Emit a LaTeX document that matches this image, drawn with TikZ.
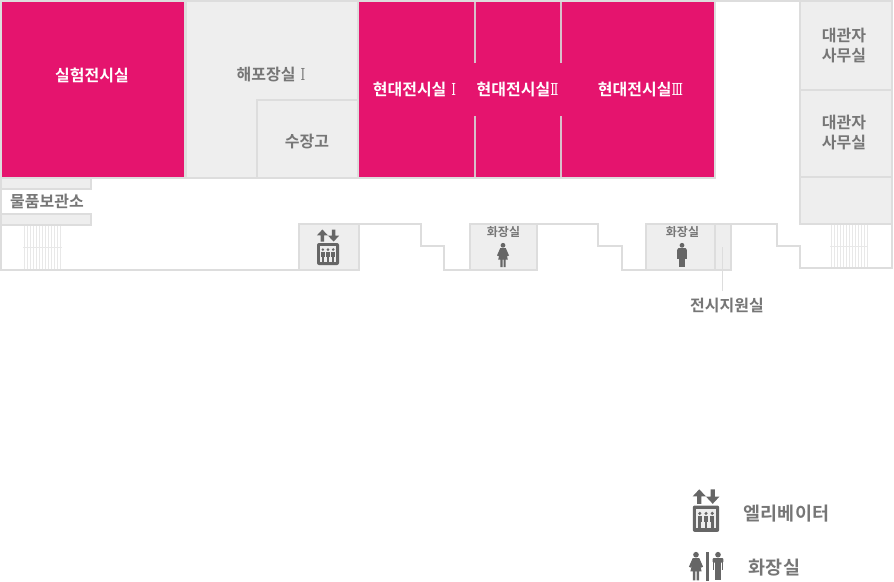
\documentclass[tikz,border=0pt]{standalone}
\usepackage{fontspec}
\setmainfont{Noto Sans CJK KR Bold}
\newfontfamily\romf{DejaVu Serif}[FakeStretch=0.72]
\newcommand{\fa}{\fontsize{16}{20}\selectfont}
\newcommand{\fb}{\fontsize{12}{14}\selectfont}
\newcommand{\fc}{\fontsize{18.5}{22}\selectfont}
\newcommand{\rn}[1]{{\romf\fontsize{16.5}{18}\selectfont #1}}
\definecolor{wallc}{HTML}{DDDDDD}
\definecolor{roomc}{HTML}{EEEEEE}
\definecolor{pinkc}{HTML}{E5146E}
\definecolor{textc}{HTML}{767676}
\definecolor{iconc}{HTML}{666666}
\definecolor{divc}{HTML}{D8BFCA}
\definecolor{stairc}{HTML}{E8E8E8}
\tikzset{
  wall/.style={draw=wallc,line width=2pt,line join=miter},
  room/.style={wall,fill=roomc},
  pinkroom/.style={wall,fill=pinkc},
  divider/.style={draw=divc,line width=2pt},
  stairline/.style={draw=stairc,line width=0.8pt},
  lab/.style={text=textc,font=\fa,inner sep=0pt,align=center},
  wlab/.style={text=white,font=\fa,inner sep=0pt},
  slab/.style={text=textc,font=\fb,inner sep=0pt},
  leg/.style={text=textc,font=\fc,inner sep=0pt},
  pics/lift/.style={code={
    \fill[iconc,rounded corners=2pt] (-11,0) rectangle (11,22);
    \fill[white!88!iconc] (-8,3) rectangle (8,19);
    \foreach \d in {-5.2,0,5.2}{
      \fill[iconc] (\d,6.6) circle (1.4);
      \fill[iconc] (\d-1.8,8.6) rectangle (\d+1.8,14);
      \fill[iconc] (\d-1.1,14) rectangle (\d+1.1,19);
    }
    \fill[iconc] (-5.6,-13.5) -- (-0.1,-7.6) -- (-3.8,-7.6) -- (-3.8,-1.4) -- (-7.4,-1.4) -- (-7.4,-7.6) -- (-11.1,-7.6) -- cycle;
    \fill[iconc] (5.6,-1.4) -- (0.1,-7.3) -- (3.8,-7.3) -- (3.8,-13.5) -- (7.4,-13.5) -- (7.4,-7.3) -- (11.1,-7.3) -- cycle;
  }},
  pics/lady/.style={code={
    \fill[iconc] (0,2.3) circle (2.4);
    \fill[iconc] (-2.8,5.2) -- (2.8,5.2) -- (6,12.5) -- (4.4,13.2) -- (3.2,10) -- (4.8,16.5) -- (2.6,16.5) -- (2.6,24) -- (0.5,24) -- (0.5,16.5) -- (-0.5,16.5) -- (-0.5,24) -- (-2.6,24) -- (-2.6,16.5) -- (-4.8,16.5) -- (-3.2,10) -- (-4.4,13.2) -- (-6,12.5) -- cycle;
  }},
  pics/gent/.style={code={
    \fill[iconc] (0,2.3) circle (2.4);
    \fill[iconc,rounded corners=1pt] (-4.6,5.2) rectangle (4.6,9);
    \fill[iconc] (-2.7,6) rectangle (2.7,15);
    \fill[iconc] (-4.6,7) rectangle (-3.1,15.5);
    \fill[iconc] (3.1,7) rectangle (4.6,15.5);
    \fill[iconc] (-2.7,15) rectangle (-0.25,24);
    \fill[iconc] (0.25,15) rectangle (2.7,24);
  }}
}
\begin{document}
\begin{tikzpicture}[x=1pt,y=-1pt]
\useasboundingbox (0,0) rectangle (894,581);
\clip (0,0) rectangle (894,581);
% top wall over the void
\draw[wall] (714,1) -- (800,1);
% corridor outline
\draw[wall] (1,178) -- (1,269.5) -- (299,269.5);
\draw[wall] (359,223.5) -- (421,223.5) -- (421,246) -- (444,246) -- (444,269.5) -- (470,269.5);
\draw[wall] (537,223.5) -- (598,223.5) -- (598,246) -- (622,246) -- (622,269.5) -- (646,269.5);
\draw[wall] (731,223.5) -- (777,223.5) -- (777,246) -- (800,246) -- (800,268) -- (892,268) -- (892,223);
% stairs
\foreach \x in {24,27,...,60}{\draw[stairline] (\x,225) -- (\x,268.5);}
\draw[stairline] (23,247) -- (62,247);
\foreach \x in {831,834,...,867}{\draw[stairline] (\x,224) -- (\x,267);}
\draw[stairline] (830,246) -- (868,246);
% rooms
\draw[room] (186,1) rectangle (358,178);
\draw[room] (257,100) rectangle (358,178);
\draw[pinkroom] (1,1) rectangle (185,178);
\draw[pinkroom] (358,1) rectangle (715,178);
\draw[divider] (474.5,2) -- (474.5,63);
\draw[divider] (474.5,116) -- (474.5,177);
\draw[divider] (560.5,2) -- (560.5,63);
\draw[divider] (560.5,116) -- (560.5,177);
\draw[room] (800,1) rectangle (892,89.5);
\draw[room] (800,89.5) rectangle (892,177);
\draw[room] (800,177) rectangle (892,223.5);
\draw[room] (1,178) rectangle (91,189);
\draw[room] (1,213.5) rectangle (91,225);
\draw[room] (299,223.5) rectangle (359,269.5);
\draw[room] (469.5,223.5) rectangle (537,269.5);
\draw[room] (646,223.5) rectangle (715,269.5);
\draw[room] (715,223.5) rectangle (731,269.5);
% labels
\node[wlab] (lab1) at (92,75.7) {실험전시실};
\node[lab] (lab2) at (271,74.7) {해포장실\hspace{5pt}\rn{Ⅰ}};
\node[lab] (lab3) at (307,141.7) {수장고};
\node[wlab] (lab4) at (414.5,89.7) {현대전시실\hspace{5pt}\rn{Ⅰ}};
\node[wlab] (lab5) at (517.5,89.7) {현대전시실\rn{Ⅱ}};
\node[wlab] (lab6) at (640.5,89.7) {현대전시실\rn{Ⅲ}};
\node[lab] (lab7a) at (844,35.7) {대관자};
\node[lab] (lab7b) at (844,55.7) {사무실};
\node[lab] (lab8a) at (844,122.7) {대관자};
\node[lab] (lab8b) at (844,142.7) {사무실};
\node[lab] (lab9) at (47,201.7) {물품보관소};
\node[slab] (lab10) at (503.5,232.5) {화장실};
\node[slab] (lab11) at (682.5,232.5) {화장실};
\node[lab] (lab12) at (727,305.7) {전시지원실};
\coordinate (leadtop) at (722,247);
\draw[wallc,line width=0.8pt] (leadtop) -- (leadtop |- 0,291);
% icons
\pic (liftA) at (328,243) {lift};
\pic (ladyA) at (503,243) {lady};
\pic (gentA) at (682,243) {gent};
% legend
\pic[scale=1.2] (liftB) at (706,505.5) {lift};
\pic[scale=1.18] (ladyB) at (696,552) {lady};
\fill[iconc] (706,552) rectangle (708.5,581);
\pic[scale=1.18] (gentB) at (718,552) {gent};
\node[leg] (leg1) at (786.5,513.7) {엘리베이터};
\node[leg] (leg2) at (774.5,567.7) {화장실};
\end{tikzpicture}
\end{document}
